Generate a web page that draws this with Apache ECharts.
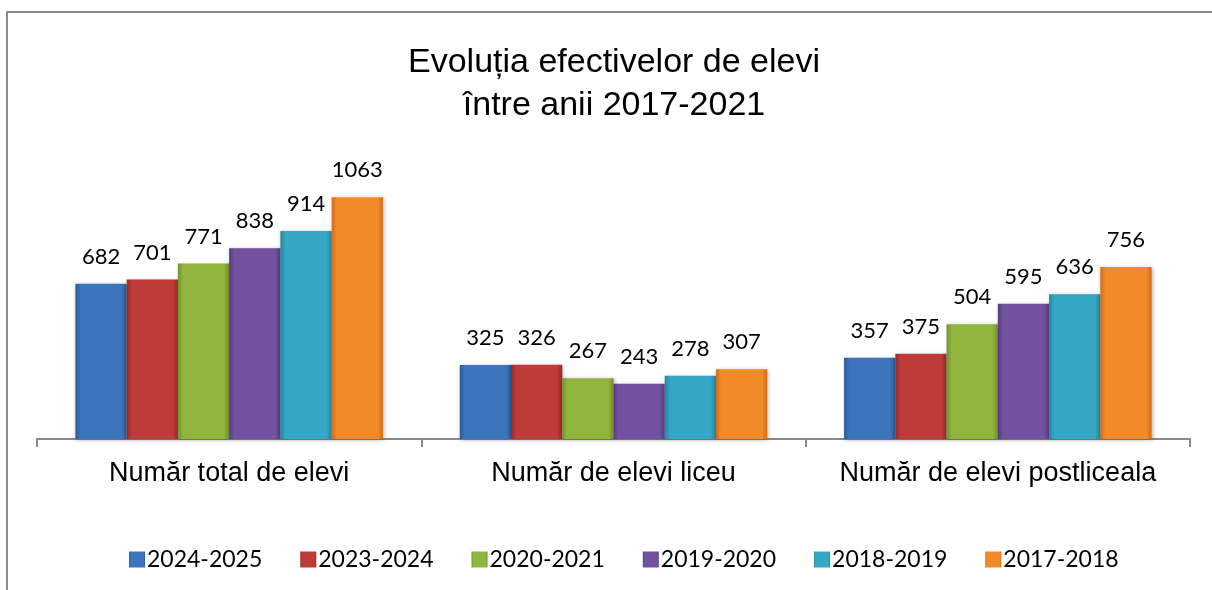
<!DOCTYPE html>
<html><head><meta charset="utf-8">
<script src="https://cdn.jsdelivr.net/npm/echarts@6/dist/echarts.min.js"></script>
<style>html,body{margin:0;padding:0;background:#fff}#c{width:1212px;height:590px}</style>
</head><body><div id="c"></div>
<script>
const categories = ['Număr total de elevi', 'Număr de elevi liceu', 'Număr de elevi postliceala'];
const seriesNames = ['2024-2025', '2023-2024', '2020-2021', '2019-2020', '2018-2019', '2017-2018'];
const s2024_2025 = [682, 325, 357];
const s2023_2024 = [701, 326, 375];
const s2020_2021 = [771, 267, 504];
const s2019_2020 = [838, 243, 595];
const s2018_2019 = [914, 278, 636];
const s2017_2018 = [1063, 307, 756];
const seriesValues = [s2024_2025, s2023_2024, s2020_2021, s2019_2020, s2018_2019, s2017_2018];
const baseColors = [
  ['#2a5896', '#3d75bd', '#2a5896'],
  ['#962828', '#bd3b39', '#962828'],
  ['#72922b', '#91b53d', '#72922b'],
  ['#563c7d', '#72519f', '#563c7d'],
  ['#2485a0', '#35a6c4', '#2485a0'],
  ['#cf6c18', '#f18b29', '#cf6c18']
];
function grad(c){
  return new echarts.graphic.LinearGradient(0,0,1,0,[
    {offset:0,color:c[0]},{offset:0.1,color:c[1]},{offset:0.9,color:c[1]},{offset:1,color:c[2]}
  ]);
}
const chart = echarts.init(document.getElementById('c'));
chart.setOption({
  animation:false,
  title:{
    text:'Evoluția efectivelor de elevi\nîntre anii 2017-2021',
    left:609, textAlign:'center', top:36,
    textStyle:{fontFamily:'Liberation Sans', fontSize:34, fontWeight:'normal', color:'#000', lineHeight:43}
  },
  legend:{
    top:543, left:124, itemWidth:16, itemHeight:16, itemGap:38,
    icon:'rect',
    textStyle:{fontFamily:'Lato', fontSize:23, color:'#000', padding:[0,0,0,-3]},
    data:seriesNames
  },
  graphic:[{type:'rect', shape:{x:7,y:12,width:1300,height:700}, style:{fill:'none', stroke:'#888', lineWidth:2}, silent:true}],
  grid:{left:37, right:22, top:166, bottom:151},
  xAxis:{
    type:'category', data:categories,
    axisLine:{lineStyle:{color:'#8a8a8a', width:2}},
    axisTick:{show:true, length:8, lineStyle:{color:'#8a8a8a', width:2}},
    axisLabel:{interval:0, fontFamily:'Liberation Sans', fontSize:27, color:'#000', margin:21}
  },
  yAxis:{type:'value', min:0, max:1200, show:false, splitLine:{show:false}},
  series: seriesNames.map((n,i)=>({
    name:n, type:'bar', data:seriesValues[i], barGap:'0%', barCategoryGap:'20%',
    itemStyle:{color:grad(baseColors[i]), shadowColor:'rgba(0,0,0,0.3)', shadowBlur:4, shadowOffsetX:1, shadowOffsetY:1},
    label:{show:true, position:'top', distance:16, fontFamily:'Lato', fontSize:22, color:'#000'}
  }))
});
</script></body></html>
